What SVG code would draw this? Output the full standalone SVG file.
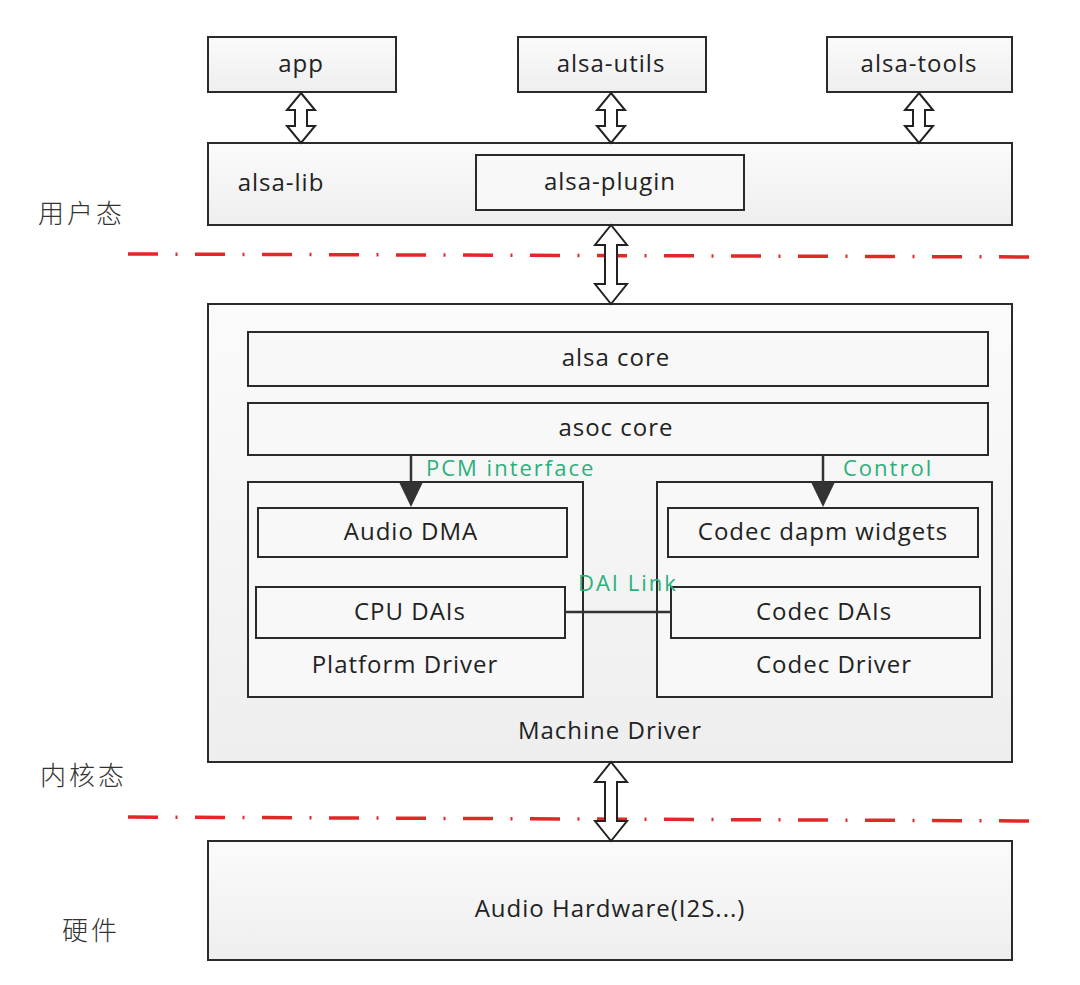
<svg xmlns="http://www.w3.org/2000/svg" width="1080" height="985" viewBox="0 0 1080 985">
<defs>
<linearGradient id="g" x1="0" y1="0" x2="0" y2="1">
<stop offset="0" stop-color="#fbfbfb"/>
<stop offset="1" stop-color="#eeeeee"/>
</linearGradient>
<style>
.box{fill:url(#g);stroke:#2a2a2a;stroke-width:2}
.inner{fill:#f8f8f8;stroke:#2a2a2a;stroke-width:2}
.t{font-family:"Open Sans","DejaVu Sans",sans-serif;font-size:24px;letter-spacing:1px;fill:#222;text-anchor:middle}
.g{font-family:"Open Sans","DejaVu Sans",sans-serif;font-size:22px;letter-spacing:2px;fill:#2bb07a}
.cn{font-family:"Noto Sans CJK SC",sans-serif;font-size:26px;letter-spacing:3px;fill:#333;font-weight:300}
.dbl{fill:#fff;stroke:#222;stroke-width:2;stroke-linejoin:miter}
.red{stroke:#e02828;stroke-width:3.5;fill:none;stroke-dasharray:30 17.5 2 17.5}
.ln{stroke:#333;stroke-width:2.5;fill:none}
.ah{fill:#333}
</style>
</defs>
<rect width="1080" height="985" fill="#ffffff"/>

<g id="sep">
<line class="red" x1="128" y1="254" x2="1044" y2="257"/>
<line class="red" x1="128" y1="817" x2="1044" y2="821"/>
<text class="cn" x="38" y="223">用户态</text>
<text class="cn" x="40" y="785">内核态</text>
<text class="cn" x="62" y="940">硬件</text>
</g>

<g id="app"><rect class="box" x="208" y="37" width="188" height="55"/><text class="t" x="301" y="72">app</text></g>
<g id="alsa-utils"><rect class="box" x="518" y="37" width="188" height="55"/><text class="t" x="611" y="72">alsa-utils</text></g>
<g id="alsa-tools"><rect class="box" x="827" y="37" width="185" height="55"/><text class="t" x="919" y="72">alsa-tools</text></g>

<g id="alsa-lib"><rect class="box" x="208" y="143" width="804" height="82"/><text class="t" x="281" y="191">alsa-lib</text></g>
<g id="alsa-plugin"><rect class="inner" x="476" y="155" width="268" height="55"/><text class="t" x="610" y="190">alsa-plugin</text></g>

<g id="machine-driver"><rect class="box" x="208" y="304" width="804" height="458"/><text class="t" x="610" y="739">Machine Driver</text></g>
<g id="alsa-core"><rect class="inner" x="248" y="332" width="740" height="54"/><text class="t" x="616" y="366">alsa core</text></g>
<g id="asoc-core"><rect class="inner" x="248" y="403" width="740" height="52"/><text class="t" x="616" y="436">asoc core</text></g>

<g id="platform-driver"><rect class="inner" x="248" y="482" width="335" height="215"/><text class="t" x="405" y="673">Platform Driver</text></g>
<g id="audio-dma"><rect class="inner" x="258" y="508" width="309" height="49"/><text class="t" x="411" y="540">Audio DMA</text></g>
<g id="cpu-dais"><rect class="inner" x="256" y="587" width="309" height="51"/><text class="t" x="410" y="620">CPU DAIs</text></g>

<g id="codec-driver"><rect class="inner" x="657" y="482" width="335" height="215"/><text class="t" x="834" y="673">Codec Driver</text></g>
<g id="codec-dapm"><rect class="inner" x="668" y="508" width="310" height="49"/><text class="t" x="823" y="540">Codec dapm widgets</text></g>
<g id="codec-dais"><rect class="inner" x="671" y="587" width="309" height="51"/><text class="t" x="824" y="620">Codec DAIs</text></g>

<g id="audio-hw"><rect class="box" x="208" y="841" width="804" height="119"/><text class="t" x="610" y="917">Audio Hardware(I2S...)</text></g>

<g id="connectors">
<path class="dbl" d="M301,93 L315,110 L307,110 L307,126 L315,126 L301,143 L287,126 L295,126 L295,110 L287,110 Z"/>
<path class="dbl" d="M611,93 L625,110 L617,110 L617,126 L625,126 L611,143 L597,126 L605,126 L605,110 L597,110 Z"/>
<path class="dbl" d="M919,93 L933,110 L925,110 L925,126 L933,126 L919,143 L905,126 L913,126 L913,110 L905,110 Z"/>
<path class="dbl" d="M611,225 L627,245 L617,245 L617,284 L627,284 L611,304 L595,284 L605,284 L605,245 L595,245 Z"/>
<path class="dbl" d="M611,762 L627,782 L617,782 L617,821 L627,821 L611,841 L595,821 L605,821 L605,782 L595,782 Z"/>
<line class="ln" x1="411" y1="455" x2="411" y2="485"/>
<path class="ah" d="M399,482 L423,482 L411,507 Z"/>
<line class="ln" x1="823" y1="455" x2="823" y2="485"/>
<path class="ah" d="M811,482 L835,482 L823,507 Z"/>
<line class="ln" x1="565" y1="612" x2="671" y2="612"/>
<text class="g" x="426" y="476">PCM interface</text>
<text class="g" x="843" y="476">Control</text>
<text class="g" x="578" y="591">DAI Link</text>
</g>
</svg>
